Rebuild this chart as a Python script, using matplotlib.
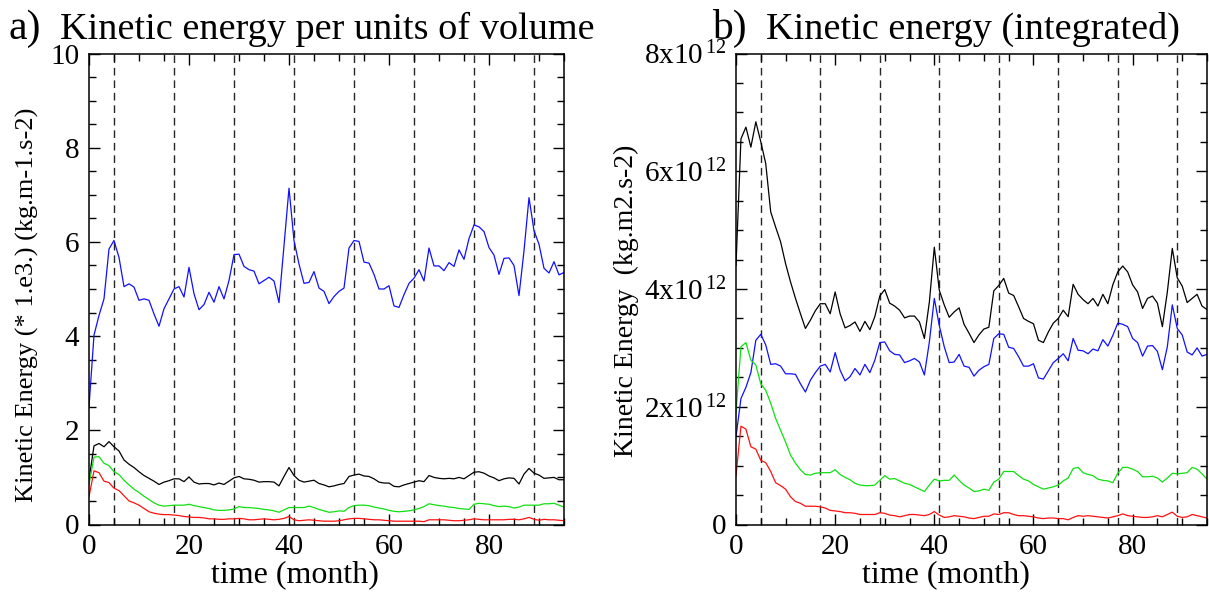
import matplotlib
matplotlib.use("Agg")
import matplotlib.pyplot as plt
from matplotlib.ticker import MultipleLocator, FuncFormatter
import numpy as np

plt.rcParams["font.family"] = ["Liberation Serif", "DejaVu Serif"]
plt.rcParams["mathtext.fontset"] = "custom"
plt.rcParams["mathtext.rm"] = "Liberation Serif"
plt.rcParams["mathtext.it"] = "Liberation Serif"

months = np.arange(96)
year_marks = [5, 17, 29, 41, 53, 65, 77, 89]

# a) kinetic energy per unit volume (*1e3)
ke_vol_black = [0.95, 1.67, 1.72, 1.65, 1.76, 1.65, 1.56, 1.37, 1.28, 1.21,
                1.12, 1.04, 0.98, 0.92, 0.85, 0.90, 0.93, 0.97, 0.97, 0.91,
                1.01, 0.90, 0.86, 0.87, 0.87, 0.84, 0.88, 0.85, 0.92, 0.99,
                1.02, 0.97, 0.96, 0.94, 0.90, 0.91, 0.91, 0.90, 0.82, 1.02,
                1.21, 1.04, 0.94, 0.90, 0.92, 0.94, 0.87, 0.84, 0.80, 0.82,
                0.85, 0.87, 1.02, 1.05, 1.07, 1.03, 1.02, 0.97, 0.90, 0.88,
                0.88, 0.81, 0.80, 0.84, 0.87, 0.90, 0.93, 0.91, 1.04, 1.00,
                0.98, 0.97, 0.98, 0.97, 1.00, 0.97, 1.04, 1.11, 1.12, 1.09,
                1.03, 0.99, 0.93, 0.97, 0.99, 0.98, 0.86, 1.07, 1.19, 1.09,
                1.05, 0.98, 0.99, 1.00, 0.95, 0.95]
ke_vol_blue = [2.50, 4.02, 4.44, 4.79, 5.85, 6.03, 5.67, 5.05, 5.11, 5.04,
               4.76, 4.79, 4.76, 4.47, 4.21, 4.58, 4.79, 5.00, 5.05, 4.83,
               5.46, 4.90, 4.56, 4.67, 4.93, 4.72, 5.05, 4.79, 5.18, 5.73,
               5.74, 5.48, 5.41, 5.38, 5.11, 5.18, 5.25, 5.17, 4.71, 5.92,
               7.14, 6.03, 5.53, 5.12, 5.14, 5.37, 5.02, 4.95, 4.69, 4.84,
               4.95, 5.02, 5.87, 6.03, 6.01, 5.57, 5.55, 5.31, 5.00, 5.00,
               5.07, 4.64, 4.61, 4.88, 5.12, 5.23, 5.41, 5.17, 5.87, 5.49,
               5.49, 5.39, 5.56, 5.48, 5.83, 5.63, 6.07, 6.36, 6.32, 6.22,
               5.88, 5.72, 5.31, 5.65, 5.66, 5.50, 4.86, 5.81, 6.94, 6.24,
               5.95, 5.44, 5.34, 5.58, 5.30, 5.35]
ke_vol_green = [0.85, 1.43, 1.44, 1.30, 1.25, 1.12, 1.06, 0.94, 0.84, 0.75,
                0.68, 0.60, 0.53, 0.46, 0.41, 0.39, 0.40, 0.41, 0.41, 0.41,
                0.43, 0.40, 0.38, 0.36, 0.34, 0.31, 0.30, 0.30, 0.31, 0.33,
                0.38, 0.36, 0.36, 0.35, 0.34, 0.32, 0.31, 0.29, 0.26, 0.31,
                0.36, 0.36, 0.36, 0.36, 0.39, 0.36, 0.32, 0.29, 0.26, 0.27,
                0.29, 0.28, 0.36, 0.40, 0.41, 0.41, 0.40, 0.37, 0.35, 0.33,
                0.30, 0.28, 0.27, 0.28, 0.29, 0.31, 0.34, 0.38, 0.44, 0.42,
                0.40, 0.39, 0.37, 0.36, 0.34, 0.33, 0.32, 0.43, 0.45, 0.44,
                0.43, 0.40, 0.38, 0.39, 0.38, 0.35, 0.37, 0.41, 0.41, 0.41,
                0.41, 0.44, 0.44, 0.45, 0.41, 0.37]
ke_vol_red = [0.59, 1.14, 1.10, 0.92, 0.89, 0.77, 0.72, 0.61, 0.50, 0.46,
              0.41, 0.34, 0.27, 0.24, 0.22, 0.21, 0.21, 0.20, 0.19, 0.17,
              0.16, 0.15, 0.15, 0.14, 0.12, 0.12, 0.11, 0.11, 0.12, 0.12,
              0.13, 0.12, 0.10, 0.10, 0.11, 0.12, 0.11, 0.10, 0.11, 0.13,
              0.17, 0.10, 0.08, 0.09, 0.10, 0.09, 0.08, 0.07, 0.07, 0.07,
              0.08, 0.10, 0.12, 0.13, 0.13, 0.12, 0.11, 0.10, 0.10, 0.09,
              0.08, 0.07, 0.07, 0.07, 0.07, 0.07, 0.07, 0.06, 0.10, 0.10,
              0.10, 0.10, 0.09, 0.08, 0.08, 0.09, 0.10, 0.12, 0.11, 0.10,
              0.10, 0.10, 0.10, 0.10, 0.11, 0.11, 0.10, 0.12, 0.15, 0.11,
              0.09, 0.11, 0.10, 0.10, 0.09, 0.08]

# b) integrated kinetic energy (units of 1e12)
ke_int_black = [4.40, 6.55, 6.75, 6.41, 6.84, 6.50, 6.13, 5.31, 5.05, 4.80,
                4.43, 4.12, 3.84, 3.58, 3.33, 3.47, 3.63, 3.75, 3.75, 3.58,
                3.95, 3.58, 3.34, 3.38, 3.44, 3.28, 3.45, 3.31, 3.53, 3.88,
                3.99, 3.76, 3.71, 3.64, 3.51, 3.54, 3.54, 3.44, 3.16, 3.78,
                4.71, 3.98, 3.73, 3.52, 3.61, 3.68, 3.40, 3.25, 3.09, 3.22,
                3.32, 3.35, 3.97, 4.06, 4.18, 3.93, 3.89, 3.70, 3.50, 3.45,
                3.41, 3.13, 3.09, 3.27, 3.42, 3.50, 3.64, 3.53, 4.08, 3.91,
                3.82, 3.75, 3.84, 3.71, 3.91, 3.75, 4.07, 4.29, 4.39, 4.29,
                4.07, 3.95, 3.67, 3.84, 3.88, 3.76, 3.36, 3.95, 4.69, 4.19,
                4.05, 3.77, 3.84, 3.91, 3.71, 3.65]
ke_int_blue = [1.49, 2.14, 2.33, 2.58, 3.13, 3.23, 3.05, 2.72, 2.73, 2.69,
               2.56, 2.56, 2.55, 2.39, 2.25, 2.45, 2.58, 2.69, 2.72, 2.59,
               2.92, 2.62, 2.44, 2.51, 2.65, 2.54, 2.72, 2.58, 2.79, 3.09,
               3.10, 2.95, 2.89, 2.88, 2.75, 2.78, 2.82, 2.76, 2.54, 3.10,
               3.84, 3.38, 3.02, 2.75, 2.76, 2.89, 2.69, 2.67, 2.52, 2.62,
               2.68, 2.72, 3.16, 3.24, 3.23, 3.01, 2.99, 2.85, 2.69, 2.69,
               2.73, 2.49, 2.47, 2.61, 2.75, 2.82, 2.90, 2.78, 3.16, 2.96,
               2.95, 2.90, 2.98, 2.95, 3.14, 3.03, 3.21, 3.42, 3.40, 3.36,
               3.16, 3.09, 2.86, 3.03, 3.04, 2.94, 2.63, 3.02, 3.73, 3.33,
               3.22, 2.93, 2.88, 3.00, 2.86, 2.89]
ke_int_green = [1.91, 3.02, 3.09, 2.79, 2.71, 2.39, 2.28, 2.06, 1.80, 1.60,
                1.40, 1.18, 1.04, 0.93, 0.85, 0.84, 0.87, 0.88, 0.88, 0.88,
                0.93, 0.85, 0.80, 0.76, 0.70, 0.67, 0.66, 0.66, 0.67, 0.75,
                0.83, 0.77, 0.78, 0.74, 0.70, 0.68, 0.64, 0.60, 0.56, 0.67,
                0.77, 0.74, 0.75, 0.75, 0.84, 0.75, 0.67, 0.62, 0.56, 0.57,
                0.60, 0.58, 0.72, 0.77, 0.90, 0.90, 0.90, 0.83, 0.77, 0.74,
                0.68, 0.64, 0.60, 0.62, 0.64, 0.67, 0.74, 0.79, 0.95, 0.97,
                0.88, 0.85, 0.83, 0.77, 0.75, 0.74, 0.71, 0.87, 0.97, 0.97,
                0.94, 0.90, 0.81, 0.81, 0.82, 0.79, 0.72, 0.79, 0.87, 0.86,
                0.87, 0.88, 0.97, 0.94, 0.86, 0.77]
ke_int_red = [0.83, 1.67, 1.62, 1.32, 1.28, 1.09, 1.05, 0.90, 0.71, 0.66,
              0.60, 0.47, 0.39, 0.36, 0.31, 0.31, 0.31, 0.30, 0.28, 0.24,
              0.23, 0.22, 0.20, 0.20, 0.19, 0.17, 0.17, 0.17, 0.17, 0.20,
              0.19, 0.16, 0.15, 0.13, 0.15, 0.17, 0.17, 0.16, 0.15, 0.17,
              0.22, 0.16, 0.12, 0.13, 0.15, 0.14, 0.13, 0.11, 0.10, 0.12,
              0.14, 0.14, 0.18, 0.17, 0.20, 0.20, 0.17, 0.15, 0.15, 0.14,
              0.13, 0.11, 0.10, 0.11, 0.11, 0.10, 0.10, 0.08, 0.12, 0.15,
              0.14, 0.15, 0.14, 0.13, 0.12, 0.11, 0.13, 0.15, 0.18, 0.15,
              0.14, 0.13, 0.12, 0.12, 0.13, 0.15, 0.13, 0.17, 0.21, 0.14,
              0.12, 0.13, 0.17, 0.15, 0.13, 0.11]

fig = plt.figure(figsize=(12.09, 5.96), dpi=100)
ax1 = fig.add_axes([89 / 1209, 71.5 / 596, 475 / 1209, 471 / 596])
ax2 = fig.add_axes([736 / 1209, 71.5 / 596, 471 / 1209, 471 / 596])

colors = {"black": "black", "blue": "#1010ff", "green": "#10e010", "red": "#ff1010"}


def style(ax, xlab_pos):
    ax.set_xlim(0, 95)
    ax.xaxis.set_major_locator(MultipleLocator(20))
    ax.xaxis.set_minor_locator(MultipleLocator(5))
    ax.tick_params(which="both", direction="in", top=True, right=True,
                   labelsize=21, width=1, pad=7)
    ax.tick_params(which="major", length=8)
    ax.tick_params(which="minor", length=5)
    for s in ax.spines.values():
        s.set_linewidth(1.1)
    for m in year_marks:
        ax.axvline(m, color="0.15", lw=1, ls=(0, (5.5, 3.5)), zorder=1)
    ax.set_xlabel("time (month)", fontsize=23)
    ax.xaxis.set_label_coords(xlab_pos, -0.075)


style(ax1, 0.434)
ax1.set_ylim(0, 10)
ax1.yaxis.set_major_locator(MultipleLocator(2))
ax1.yaxis.set_minor_locator(MultipleLocator(0.5))
ax1.plot(months, ke_vol_blue, color=colors["blue"], lw=0.9)
ax1.plot(months, ke_vol_black, color=colors["black"], lw=0.9)
ax1.plot(months, ke_vol_green, color=colors["green"], lw=0.9)
ax1.plot(months, ke_vol_red, color=colors["red"], lw=0.9)
ax1.set_ylabel("Kinetic Energy (* 1.e3.) (kg.m-1.s-2)", fontsize=19)
ax1.yaxis.set_label_coords(-0.105, 0.466)

style(ax2, 0.446)
ax2.set_ylim(0, 8e12)
ax2.yaxis.set_major_locator(MultipleLocator(2e12))
ax2.yaxis.set_minor_locator(MultipleLocator(0.5e12))
ax2.yaxis.set_major_formatter(FuncFormatter(
    lambda v, p: "0" if v == 0 else "%dx10$^{\\,12}$" % round(v / 1e12)))
ax2.plot(months, np.array(ke_int_black) * 1e12, color=colors["black"], lw=0.9)
ax2.plot(months, np.array(ke_int_blue) * 1e12, color=colors["blue"], lw=0.9)
ax2.plot(months, np.array(ke_int_green) * 1e12, color=colors["green"], lw=0.9)
ax2.plot(months, np.array(ke_int_red) * 1e12, color=colors["red"], lw=0.9)
ax2.set_ylabel("Kinetic Energy  (kg.m2.s-2)", fontsize=20)
ax2.yaxis.set_label_coords(-0.205, 0.474)

fig.text(8 / 1209, 1 - 39 / 596, "a)", fontsize=30, va="baseline")
fig.text(60 / 1209, 1 - 39 / 596, "Kinetic energy per units of volume", fontsize=27.5, va="baseline")
fig.text(712 / 1209, 1 - 39 / 596, "b)", fontsize=30, va="baseline")
fig.text(766 / 1209, 1 - 39 / 596, "Kinetic energy (integrated)", fontsize=27.5, va="baseline")

fig.savefig("out.png", dpi=100)
